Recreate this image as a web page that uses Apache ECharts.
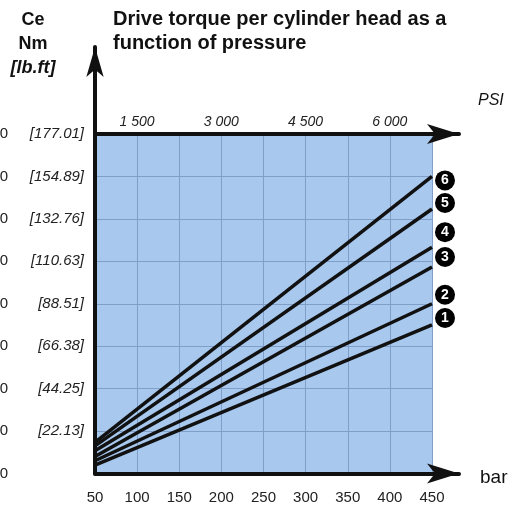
<!DOCTYPE html>
<html>
<head>
<meta charset="utf-8">
<script src="https://cdn.jsdelivr.net/npm/echarts@6/dist/echarts.min.js"></script>
<style>
  html, body { margin: 0; padding: 0; background: #fff; }
  #chart { width: 518px; height: 513px; }
</style>
</head>
<body>
<div id="chart"></div>
<script>
// pressure (bar) at the two ends of every line
const pressureBar = [50, 450];
// drive torque in Nm for curves 1..6, read at 50 and 450 bar
const torque1 = [6, 105];
const torque2 = [9, 120];
const torque3 = [12, 146];
const torque4 = [16, 160];
const torque5 = [19.5, 187];
const torque6 = [22, 210];
const curveNames = ['1', '2', '3', '4', '5', '6'];

// axis ticks
const nmTicks = [0, 30, 60, 90, 120, 150, 180, 210, 240];
const lbftTicks = ['', '[22.13]', '[44.25]', '[66.38]', '[88.51]', '[110.63]', '[132.76]', '[154.89]', '[177.01]'];
const psiTicks = [1500, 3000, 4500, 6000];

const curves = [torque1, torque2, torque3, torque4, torque5, torque6];

// layout (px)
const plotLeft = 95, plotRight = 432, plotTop = 134, plotBottom = 473.5;
const arrowEndX = 459, arrowEndY = 47;
const W = 518, H = 513;
// the chart spaces its PSI labels as if 1 bar = 15 psi
const psiPerBar = 15;
const barExt = 50 + 400 * (arrowEndX - plotLeft) / (plotRight - plotLeft);

// nudges that put the numbered badges where the original has them
const badgeNudge = [[5, -7], [5, -9], [5, -10], [5, -15], [5, -6], [5, 4]];

const myChart = echarts.init(document.getElementById('chart'));

const black = '#111';
const txt = '#222';

const option = {
  animation: false,
  title: [
    {
      text: 'Drive torque per cylinder head as a\nfunction of pressure',
      left: 113,
      top: 7,
      padding: 0,
      textStyle: { fontFamily: 'Liberation Sans', fontWeight: 'bold', fontSize: 20, lineHeight: 24, color: black }
    },
    {
      text: '{b|Ce}\n{r|Nm}\n{i|[lb.ft]}',
      left: 8,
      top: 8,
      padding: 0,
      textStyle: {
        rich: {
          b: { width: 50, align: 'center', fontFamily: 'Liberation Sans', fontWeight: 'bold', fontSize: 18, lineHeight: 24, color: black },
          r: { width: 50, align: 'center', fontFamily: 'Liberation Sans', fontSize: 18, lineHeight: 24, color: black },
          i: { width: 50, align: 'center', fontFamily: 'Liberation Sans', fontStyle: 'italic', fontSize: 18, lineHeight: 24, color: black }
        }
      }
    }
  ],
  grid: [
    {
      left: plotLeft, right: W - plotRight, top: plotTop, bottom: H - plotBottom,
      containLabel: false, outerBoundsMode: 'none',
      show: true, backgroundColor: '#a8c8ee', borderWidth: 0
    },
    {
      left: plotLeft, right: W - arrowEndX, top: arrowEndY, bottom: H - plotBottom,
      containLabel: false, outerBoundsMode: 'none'
    },
    {
      left: plotLeft, right: W - arrowEndX, top: plotTop, bottom: H - plotBottom,
      containLabel: false, outerBoundsMode: 'none'
    }
  ],
  xAxis: [
    {
      gridIndex: 0, type: 'value', min: 50, max: 450, interval: 50,
      axisLine: { show: false }, axisTick: { show: false },
      axisLabel: { margin: 17, fontFamily: 'Liberation Sans', fontSize: 15, color: txt },
      splitLine: { lineStyle: { color: '#7f9ec8', width: 1 } }
    },
    {
      gridIndex: 1, type: 'value', min: 0, max: 1,
      // blank first line drops the name a little below the axis
      name: '\nbar', nameLocation: 'end', nameGap: 21,
      nameTextStyle: { fontFamily: 'Liberation Sans', fontSize: 19, lineHeight: 9, color: black },
      axisLine: { onZero: false, lineStyle: { color: black, width: 4 }, symbol: ['none', 'arrow'], symbolSize: [15, 32] },
      axisTick: { show: false }, axisLabel: { show: false }, splitLine: { show: false }
    },
    {
      gridIndex: 2, type: 'value', position: 'top',
      min: 50 * psiPerBar, max: barExt * psiPerBar,
      // blank lines lift the name above the axis
      name: 'PSI\n\n\n', nameLocation: 'end', nameGap: 19,
      nameTextStyle: { fontFamily: 'Liberation Sans', fontStyle: 'italic', fontSize: 16, lineHeight: 22, color: black },
      axisLine: { onZero: false, lineStyle: { color: black, width: 4 }, symbol: ['none', 'arrow'], symbolSize: [15, 32] },
      axisTick: { show: false },
      axisLabel: {
        customValues: psiTicks, margin: 5,
        fontFamily: 'Liberation Sans', fontStyle: 'italic', fontSize: 14, color: txt,
        formatter: v => String(v).replace(/\B(?=(\d{3})+$)/g, ' ')
      },
      splitLine: { show: false }
    }
  ],
  yAxis: [
    {
      gridIndex: 0, type: 'value', min: 0, max: 240, interval: 30,
      axisLine: { show: false }, axisTick: { show: false },
      axisLabel: {
        margin: 11,
        formatter: function (v) {
          const i = nmTicks.indexOf(v);
          return '{n|' + v + '}{l|' + (lbftTicks[i] || ' ') + '}';
        },
        rich: {
          n: { fontFamily: 'Liberation Sans', fontSize: 15, color: txt },
          l: { width: 76, align: 'right', fontFamily: 'Liberation Sans', fontStyle: 'italic', fontSize: 15, color: txt }
        }
      },
      splitLine: { lineStyle: { color: '#7f9ec8', width: 1 } }
    },
    {
      gridIndex: 1, type: 'value', min: 0, max: 1,
      axisLine: { onZero: false, lineStyle: { color: black, width: 4 }, symbol: ['none', 'arrow'], symbolSize: [13, 30] },
      axisTick: { show: false }, axisLabel: { show: false }, splitLine: { show: false }
    },
    { gridIndex: 2, type: 'value', show: false, min: 0, max: 1 }
  ],
  series: curves.map(function (vals, k) {
    return {
      name: curveNames[k],
      type: 'line',
      xAxisIndex: 0,
      yAxisIndex: 0,
      showSymbol: false,
      clip: false,
      z: 5,
      lineStyle: { color: black, width: 3.5 },
      data: pressureBar.map((p, j) => [p, vals[j]]),
      endLabel: {
        show: true,
        formatter: curveNames[k],
        offset: badgeNudge[k],
        width: 20, height: 20, lineHeight: 20,
        align: 'center',
        backgroundColor: '#000',
        borderRadius: 10,
        color: '#fff',
        fontFamily: 'Liberation Sans',
        fontWeight: 'bold',
        fontSize: 14
      }
    };
  })
};

option && myChart.setOption(option);
</script>
</body>
</html>
